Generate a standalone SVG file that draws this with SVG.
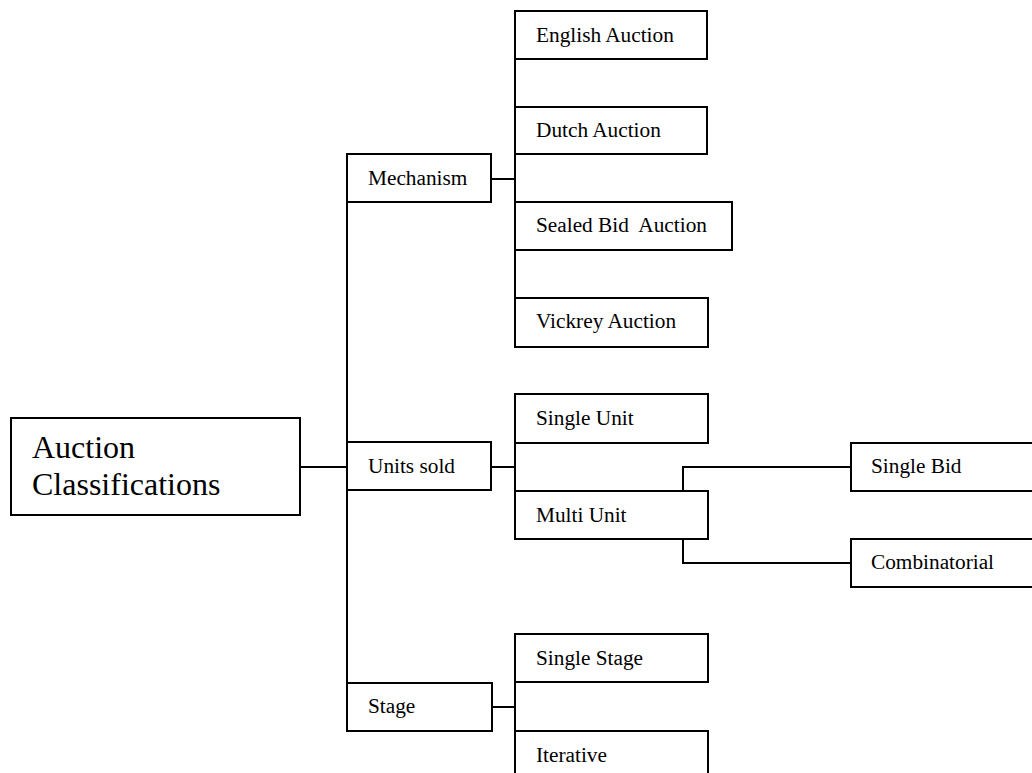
<svg xmlns="http://www.w3.org/2000/svg" width="1032" height="773" viewBox="0 0 1032 773">
<style>
.box{fill:#fff;stroke:#000;stroke-width:2}
.ln{fill:none;stroke:#000;stroke-width:2}
</style>
<rect width="1032" height="773" fill="#fff"/>
<g id="connectors">
<path class="ln" d="M300,467H347"/>
<path class="ln" d="M347,202V683"/>
<path class="ln" d="M491,179H515"/>
<path class="ln" d="M515,59V298"/>
<path class="ln" d="M491,467H515"/>
<path class="ln" d="M515,443V491"/>
<path class="ln" d="M492,707H515"/>
<path class="ln" d="M515,682V731"/>
<path class="ln" d="M683,491V467H851"/>
<path class="ln" d="M683,539V563H851"/>
</g>
<g font-family="Liberation Serif, Times New Roman, DejaVu Serif, serif" font-size="21.3" fill="#000">
<g id="root"><rect class="box" x="11" y="418" width="289" height="97"/><text font-size="32" x="32" y="458">Auction</text><text font-size="32" x="32" y="495">Classifications</text></g>
<g id="mechanism"><rect class="box" x="347" y="154" width="144" height="48"/><text x="368" y="185">Mechanism</text></g>
<g id="units-sold"><rect class="box" x="347" y="442" width="144" height="48"/><text x="368" y="473">Units sold</text></g>
<g id="stage"><rect class="box" x="347" y="683" width="145" height="48"/><text x="368" y="713">Stage</text></g>
<g id="english"><rect class="box" x="515" y="11" width="192" height="48"/><text x="536" y="42">English Auction</text></g>
<g id="dutch"><rect class="box" x="515" y="107" width="192" height="47"/><text x="536" y="137">Dutch Auction</text></g>
<g id="sealed"><rect class="box" x="515" y="202" width="217" height="48"/><text x="536" y="232" xml:space="preserve">Sealed Bid  Auction</text></g>
<g id="vickrey"><rect class="box" x="515" y="298" width="193" height="49"/><text x="536" y="328">Vickrey Auction</text></g>
<g id="single-unit"><rect class="box" x="515" y="394" width="193" height="49"/><text x="536" y="425">Single Unit</text></g>
<g id="multi-unit"><rect class="box" x="515" y="491" width="193" height="48"/><text x="536" y="522">Multi Unit</text></g>
<g id="single-bid"><rect class="box" x="851" y="443" width="195" height="48"/><text x="871" y="473">Single Bid</text></g>
<g id="combinatorial"><rect class="box" x="851" y="539" width="195" height="48"/><text x="871" y="569">Combinatorial</text></g>
<g id="single-stage"><rect class="box" x="515" y="634" width="193" height="48"/><text x="536" y="665">Single Stage</text></g>
<g id="iterative"><rect class="box" x="515" y="731" width="193" height="60"/><text x="536" y="762">Iterative</text></g>
</g>
</svg>
